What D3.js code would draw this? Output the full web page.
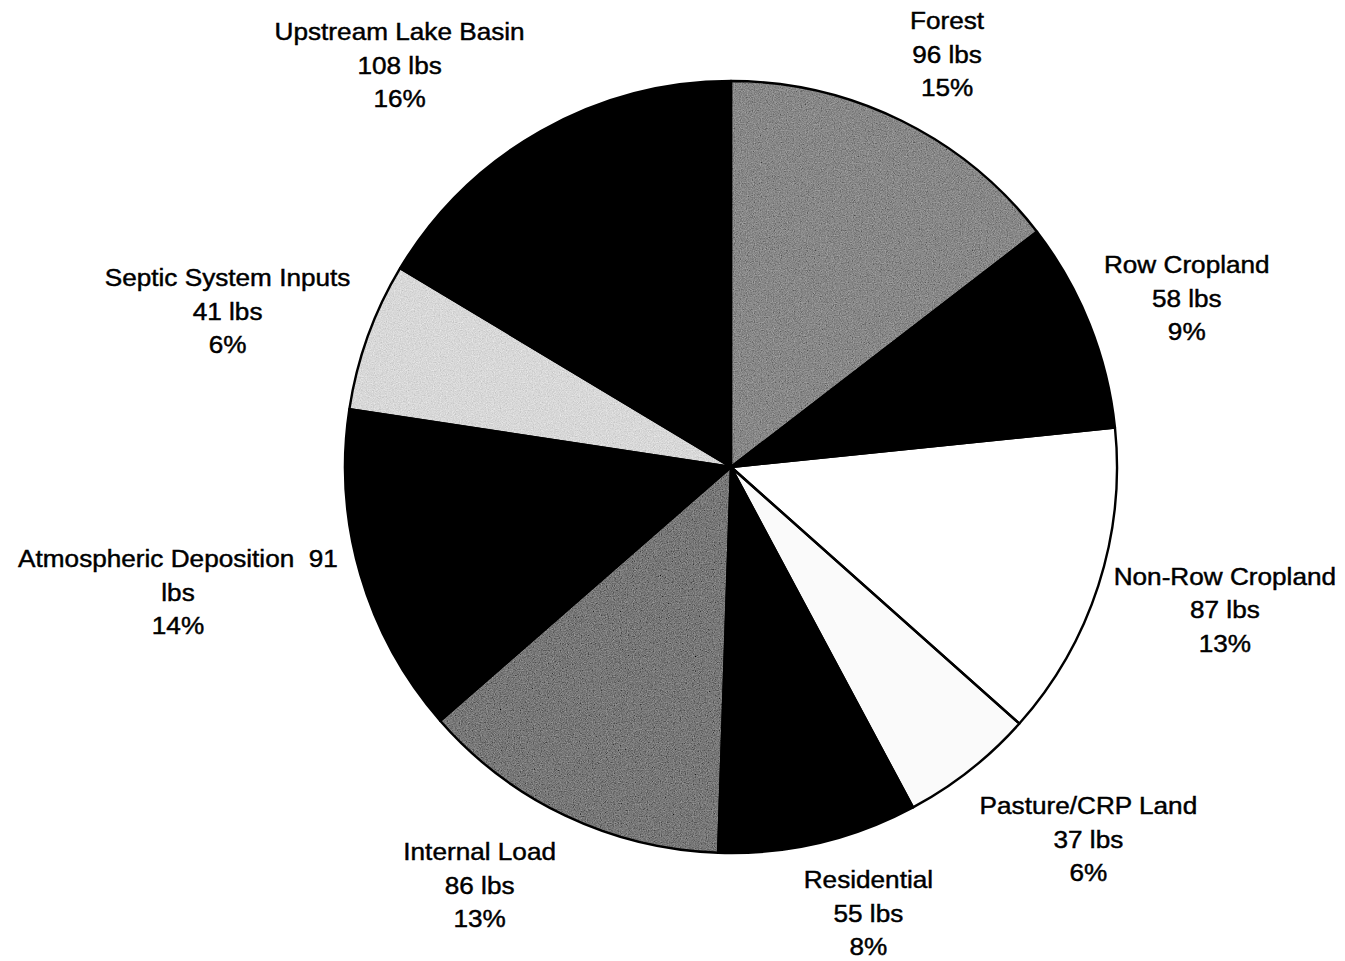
<!DOCTYPE html>
<html>
<head>
<meta charset="utf-8">
<script src="https://cdn.jsdelivr.net/npm/d3@7"></script>
<style>
  html, body { margin: 0; padding: 0; background: #fff; }
  svg { display: block; }
  text { font-family: "Liberation Sans", Arial, sans-serif; fill: #000; stroke: #000; stroke-width: 0.45px; }
</style>
</head>
<body>
<svg id="chart" width="1345" height="961"></svg>
<script>
// ---- data ----
const categories = ["Forest", "Row Cropland", "Non-Row Cropland", "Pasture/CRP Land",
  "Residential", "Internal Load", "Atmospheric Deposition", "Septic System Inputs", "Upstream Lake Basin"];
const loadsLbs = [96, 58, 87, 37, 55, 86, 91, 41, 108];
const unitLabel = "lbs";

// ---- styling / layout (not data) ----
const sliceFills = ["#888888", "#000000", "#ffffff", "#fafafa", "#000000", "#787878", "#000000", "#d8d8d8", "#000000"];
const grainy = [true, false, false, false, false, true, false, true, false];
const labelDist = [466, 486, 514, 516, 467, 488, 567, 527, 521];
const labelTurn = [1.4, 1.4, -1.8, -5.6, -4.0, 5.6, 3.5, -2.6, -10];
const wrapValueOnFirstLine = [false, false, false, false, false, false, true, false, false];

const W = 1345, H = 961;
const cx = 731, cy = 467, R = 386;
const svg = d3.select("#chart");

// grain filter for the scanned look
const defs = svg.append("defs");
const f = defs.append("filter").attr("id", "grain").attr("x", 0).attr("y", 0).attr("width", 1).attr("height", 1);
f.append("feTurbulence").attr("type", "fractalNoise").attr("baseFrequency", 0.85)
  .attr("numOctaves", 2).attr("seed", 7).attr("result", "noise");
f.append("feColorMatrix").attr("in", "noise").attr("type", "matrix")
  .attr("values", "0.33 0.33 0.33 0 0  0.33 0.33 0.33 0 0  0.33 0.33 0.33 0 0  0 0 0 0 1")
  .attr("result", "gnoise");
f.append("feComposite").attr("in", "SourceGraphic").attr("in2", "gnoise")
  .attr("operator", "arithmetic").attr("k1", 0).attr("k2", 1).attr("k3", 0.7).attr("k4", -0.35)
  .attr("result", "mix");
f.append("feComposite").attr("in", "mix").attr("in2", "SourceGraphic").attr("operator", "in");

const total = d3.sum(loadsLbs);
const rows = categories.map((c, i) => ({ name: c, value: loadsLbs[i], i }));

const pie = d3.pie().value(d => d.value).sort(null).startAngle(0).endAngle(2 * Math.PI);
const arcs = pie(rows);
const arc = d3.arc().innerRadius(0).outerRadius(R);

const g = svg.append("g").attr("transform", `translate(${cx},${cy})`);

g.selectAll("path.fill").data(arcs).join("path")
  .attr("class", "fill")
  .attr("d", arc)
  .attr("fill", d => sliceFills[d.data.i])
  .attr("stroke", d => sliceFills[d.data.i])
  .attr("stroke-width", 0.5)
  .attr("filter", d => grainy[d.data.i] ? "url(#grain)" : null);

g.selectAll("path.edge").data(arcs).join("path")
  .attr("class", "edge")
  .attr("d", arc)
  .attr("fill", "none")
  .attr("stroke", "#000")
  .attr("stroke-width", 2.4)
  .attr("stroke-linejoin", "round");

// labels
const lineGap = 33.5;
const labels = svg.append("g");
arcs.forEach(d => {
  const i = d.data.i;
  const mid = (d.startAngle + d.endAngle) / 2 + labelTurn[i] * Math.PI / 180;
  const x = cx + Math.sin(mid) * labelDist[i];
  const y = cy - Math.cos(mid) * labelDist[i];
  const pct = Math.round(d.data.value / total * 100) + "%";
  const lines = wrapValueOnFirstLine[i]
    ? [d.data.name + "\u00a0\u00a0" + d.data.value, unitLabel, pct]
    : [d.data.name, d.data.value + " " + unitLabel, pct];
  const lg = labels.append("g").attr("transform", `translate(${x},${y}) scale(1.09,1)`);
  lines.forEach((t, k) => {
    lg.append("text")
      .attr("x", 0)
      .attr("y", (k - 1) * lineGap)
      .attr("dy", "0.36em")
      .attr("text-anchor", "middle")
      .attr("font-size", 24)
      .text(t);
  });
});
</script>
</body>
</html>
